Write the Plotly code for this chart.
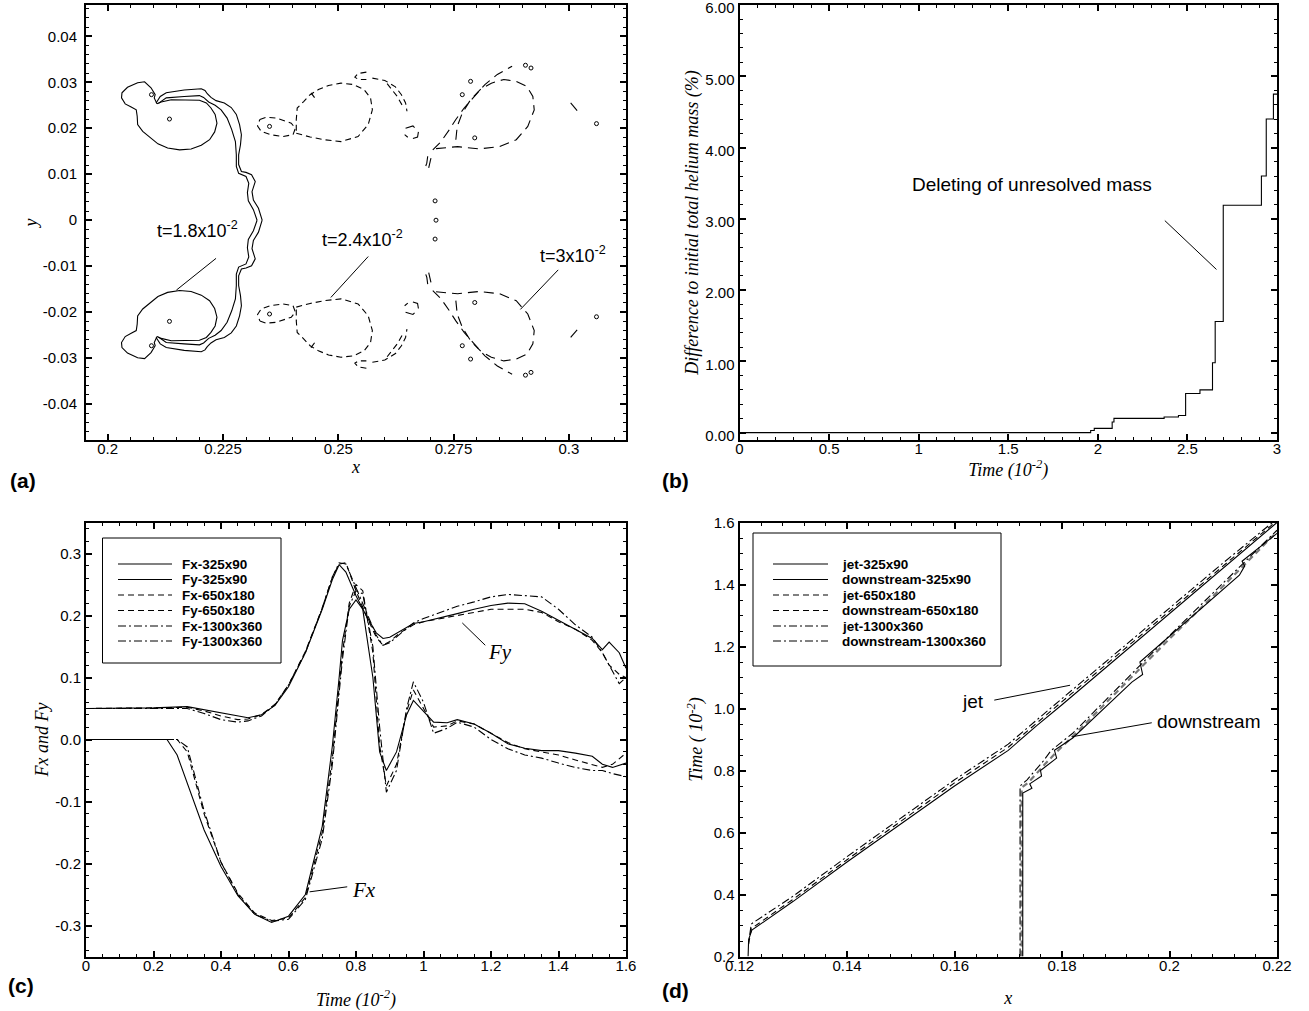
import plotly.graph_objects as go

# ================= DATA =================
# ---- (a) interface contours, upper half (lower half is the mirror image) ----
a18_cap_x = [0.2107,0.2101,0.2103,0.2094,0.2080,0.2065,0.2043,0.2031,0.2030,0.2038,0.2051,0.2062,0.2064,0.2065,0.2076,0.2094,0.2109,0.2130,0.2156,0.2181,0.2203,0.2221,0.2232,0.2237,0.2233,0.2224,0.2214,0.2199,0.2166,0.2138,0.2116,0.2107]
a18_cap_y = [0.0253,0.0266,0.0273,0.0288,0.0301,0.0299,0.0289,0.0277,0.0266,0.0253,0.0246,0.0240,0.0226,0.0208,0.0193,0.0179,0.0166,0.0157,0.0153,0.0155,0.0163,0.0175,0.0192,0.0211,0.0230,0.0244,0.0255,0.0261,0.0262,0.0262,0.0257,0.0253]
a18_outer_x = [0.2105,0.2114,0.2127,0.2166,0.2203,0.2211,0.2216,0.2224,0.2235,0.2253,0.2268,0.2279,0.2286,0.2290,0.2288,0.2284,0.2284,0.2290,0.2300,0.2312,0.2320,0.2313,0.2316,0.2327,0.2335]
a18_outer_y = [0.0255,0.0269,0.0277,0.0283,0.0286,0.0282,0.0275,0.0267,0.0260,0.0255,0.0245,0.0230,0.0208,0.0186,0.0164,0.0142,0.0121,0.0106,0.0104,0.0099,0.0084,0.0062,0.0044,0.0026,0.0]
a18_inner_x = [0.2110,0.2127,0.2166,0.2199,0.2208,0.2219,0.2233,0.2246,0.2259,0.2269,0.2277,0.2279,0.2279,0.2284,0.2300,0.2306,0.2303,0.2305,0.2316,0.2324]
a18_inner_y = [0.0254,0.0266,0.0269,0.0271,0.0267,0.0257,0.0250,0.0240,0.0222,0.0197,0.0171,0.0142,0.0117,0.0102,0.0095,0.0080,0.0060,0.0042,0.0023,0.0]
a18_dot_x = [0.2095,0.2134]
a18_dot_y = [0.0273,0.0220]

a24_main_x = [0.2409,0.2439,0.2470,0.2506,0.2543,0.2565,0.2574,0.2570,0.2556,0.2533,0.2506,0.2479,0.2457,0.2439,0.2425,0.2411,0.2409,0.2409]
a24_main_y = [0.0189,0.0181,0.0175,0.0171,0.0182,0.0208,0.0240,0.0266,0.0284,0.0295,0.0298,0.0293,0.0284,0.0273,0.0258,0.0244,0.0219,0.0189]
a24_lobe_x = [0.2330,0.2344,0.2366,0.2398,0.2407,0.2402,0.2380,0.2353,0.2333,0.2325,0.2330]
a24_lobe_y = [0.0219,0.0224,0.0222,0.0211,0.0200,0.0186,0.0182,0.0186,0.0193,0.0205,0.0219]
a24_curl_x = [0.2561,0.2543,0.2536,0.2544,0.2561]
a24_curl_y = [0.0322,0.0319,0.0311,0.0306,0.0306]
a24_tail1_x = [0.2574,0.2601,0.2624,0.2637,0.2646,0.2649]
a24_tail1_y = [0.0309,0.0304,0.0290,0.0273,0.0255,0.0237]
a24_tail2_x = [0.2606,0.2628,0.2642]
a24_tail2_y = [0.0297,0.0269,0.0244]
a24_fil_x = [0.2441,0.2452]
a24_fil_y = [0.0277,0.0262]
a24_dot_x = [0.2351]
a24_dot_y = [0.0204]

a30_main_x = [0.2755,0.2758,0.2769,0.2787,0.2809,0.2832,0.2859,0.2886,0.2909,0.2922,0.2925,0.2911,0.2886,0.2850,0.2805,0.2759,0.2705]
a30_main_y = [0.0175,0.0204,0.0233,0.0262,0.0285,0.0298,0.0306,0.0302,0.0291,0.0269,0.0240,0.0204,0.0175,0.0160,0.0155,0.0160,0.0155]
a30_arm_x = [0.2705,0.2723,0.2741,0.2755,0.2773,0.2796,0.2818,0.2845,0.2877]
a30_arm_y = [0.0153,0.0171,0.0197,0.0219,0.0244,0.0269,0.0295,0.0317,0.0335]
a30_knot_x = [0.2646,0.2662,0.2674,0.2672,0.2656,0.2644]
a30_knot_y = [0.0200,0.0205,0.0193,0.0181,0.0176,0.0186]
a30_fil1_x = [0.2694,0.2692,0.2687]
a30_fil1_y = [0.0139,0.0124,0.0110]
a30_fil2_x = [0.2701,0.2696]
a30_fil2_y = [0.0135,0.0113]
a30_far_x = [0.3004,0.3026]
a30_far_y = [0.0255,0.0229]
a30_dot_x = [0.2906,0.2918,0.2787,0.2769,0.2796,0.3060]
a30_dot_y = [0.0337,0.0331,0.0302,0.0273,0.0179,0.0210]
axis_dot_x = [0.2710,0.2712,0.2710]
axis_dot_y = [0.0042,0.0,-0.0041]

# ---- (b) helium mass loss ----
b_time = [0.0,1.96,1.98,2.08,2.09,2.37,2.45,2.49,2.57,2.64,2.655,2.70,2.913,2.94,2.98,3.0]
b_mass = [0.0,0.03,0.06,0.15,0.20,0.22,0.24,0.55,0.60,0.98,1.56,3.19,3.60,4.40,4.75,4.75]

# ---- (c) forces ----
c_tfy = [0,0.1,0.2,0.3,0.35,0.4,0.45,0.48,0.52,0.56,0.6,0.65,0.7,0.73,0.75,0.77,0.8,0.83,0.86,0.88,0.9,0.93,0.97,1.0,1.05,1.1,1.15,1.2,1.25,1.3,1.35,1.4,1.45,1.5,1.53,1.55,1.58,1.6]
fy_325 = [0.05,0.05,0.051,0.053,0.048,0.042,0.037,0.035,0.040,0.055,0.085,0.140,0.210,0.258,0.282,0.270,0.232,0.200,0.172,0.163,0.165,0.175,0.187,0.190,0.196,0.203,0.210,0.216,0.220,0.219,0.207,0.192,0.178,0.163,0.145,0.157,0.140,0.115]
fy_650 = [0.05,0.05,0.051,0.052,0.046,0.038,0.032,0.033,0.040,0.057,0.088,0.142,0.212,0.262,0.283,0.285,0.240,0.200,0.165,0.152,0.158,0.172,0.185,0.190,0.195,0.200,0.206,0.210,0.210,0.210,0.205,0.190,0.178,0.160,0.140,0.120,0.105,0.100]
fy_1300 = [0.05,0.05,0.051,0.050,0.042,0.032,0.028,0.030,0.038,0.056,0.088,0.140,0.212,0.262,0.285,0.283,0.245,0.205,0.168,0.152,0.156,0.170,0.188,0.195,0.205,0.215,0.222,0.230,0.234,0.232,0.230,0.210,0.185,0.165,0.140,0.120,0.090,0.100]
c_tfx = [0,0.1,0.2,0.24,0.27,0.3,0.35,0.4,0.45,0.5,0.55,0.6,0.65,0.7,0.73,0.75,0.76,0.78,0.8,0.82,0.85,0.87,0.89,0.92,0.95,0.97,1.0,1.03,1.07,1.1,1.15,1.2,1.25,1.3,1.35,1.4,1.45,1.5,1.53,1.56,1.6]
fx_325 = [0,0,0,0,-0.025,-0.070,-0.146,-0.205,-0.252,-0.282,-0.295,-0.285,-0.250,-0.140,-0.010,0.100,0.160,0.210,0.225,0.210,0.100,-0.020,-0.050,-0.020,0.040,0.063,0.045,0.028,0.027,0.032,0.025,0.010,-0.007,-0.014,-0.018,-0.018,-0.022,-0.027,-0.040,-0.045,-0.038]
fx_650 = [0,0,0,0,0,-0.020,-0.120,-0.198,-0.248,-0.280,-0.292,-0.288,-0.255,-0.150,-0.030,0.085,0.140,0.220,0.250,0.240,0.140,-0.010,-0.075,-0.040,0.045,0.080,0.050,0.020,0.022,0.030,0.025,0.010,-0.005,-0.015,-0.020,-0.025,-0.033,-0.040,-0.045,-0.040,-0.022]
fx_1300 = [0,0,0,0,0,-0.012,-0.115,-0.198,-0.250,-0.282,-0.293,-0.290,-0.258,-0.160,-0.040,0.075,0.130,0.215,0.240,0.235,0.150,0.020,-0.085,-0.050,0.050,0.093,0.060,0.010,0.018,0.028,0.020,0.000,-0.015,-0.025,-0.030,-0.038,-0.045,-0.050,-0.050,-0.055,-0.060]

# ---- (d) front positions ----
jet325_x = [0.1216,0.1217,0.1223,0.13,0.14,0.1461,0.16,0.17,0.1753,0.18,0.19,0.20,0.21,0.22]
jet325_t = [0.20,0.255,0.285,0.378,0.505,0.580,0.750,0.865,0.945,1.012,1.159,1.306,1.453,1.600]
jet650_x = [0.1217,0.1222,0.13,0.14,0.16,0.17,0.18,0.19,0.20,0.21,0.22]
jet650_t = [0.24,0.290,0.385,0.512,0.760,0.875,1.022,1.168,1.314,1.460,1.606]
jet1300_x = [0.1219,0.1222,0.13,0.14,0.16,0.17,0.18,0.19,0.20,0.21,0.22]
jet1300_t = [0.27,0.305,0.395,0.522,0.770,0.885,1.032,1.178,1.324,1.470,1.612]
down325_x = [0.1727,0.1727,0.1744,0.1740,0.1762,0.1760,0.1790,0.1786,0.1820,0.1930,0.1950,0.1945,0.2130,0.2140,0.2135,0.2200]
down325_t = [0.20,0.727,0.743,0.757,0.782,0.800,0.840,0.865,0.905,1.085,1.110,1.150,1.430,1.460,1.475,1.565]
down650_x = [0.1725,0.1725,0.1738,0.1752,0.1768,0.1790,0.1820,0.19,0.20,0.21,0.22]
down650_t = [0.20,0.745,0.762,0.790,0.820,0.860,0.910,1.050,1.225,1.395,1.570]
down1300_x = [0.1722,0.1722,0.1735,0.1750,0.1765,0.1780,0.1820,0.19,0.20,0.21,0.22]
down1300_t = [0.20,0.750,0.770,0.800,0.830,0.865,0.920,1.060,1.235,1.405,1.575]

legend_c_names = ["Fx-325x90","Fy-325x90","Fx-650x180","Fy-650x180","Fx-1300x360","Fy-1300x360"]
legend_d_names = ["jet-325x90","downstream-325x90","jet-650x180","downstream-650x180","jet-1300x360","downstream-1300x360"]
a_ytick_vals = [-0.04,-0.03,-0.02,-0.01,0,0.01,0.02,0.03,0.04]
a_ytick_text = ["-0.04","-0.03","-0.02","-0.01","0","0.01","0.02","0.03","0.04"]
b_ytick_vals = [0,1,2,3,4,5,6]
b_ytick_text = ["0.00","1.00","2.00","3.00","4.00","5.00","6.00"]
c_ytick_vals = [-0.3,-0.2,-0.1,0,0.1,0.2,0.3]
c_ytick_text = ["-0.3","-0.2","-0.1","0.0","0.1","0.2","0.3"]

# ================= FIGURE =================
W, H = 1309, 1011
SANS = "Arial, Liberation Sans, sans-serif"
SERIF = "Times New Roman, Liberation Serif, serif"
DASH = "6px,4px"
LDASH = "10px,6px"
DDOT = "8px,3px,2px,3px"

fig = go.Figure()

def line(xs, ys, xa, ya, dash="solid", width=1.1, color="black"):
    fig.add_trace(go.Scatter(x=xs, y=ys, xaxis=xa, yaxis=ya, mode="lines",
                             line=dict(color=color, width=width, dash=dash),
                             showlegend=False, hoverinfo="skip"))

def dots(xs, ys, xa, ya):
    fig.add_trace(go.Scatter(x=xs, y=ys, xaxis=xa, yaxis=ya, mode="markers",
                             marker=dict(symbol="circle-open", size=4, color="black", line=dict(width=1)),
                             showlegend=False, hoverinfo="skip"))

def mirrored(xs, ys, dash):
    line(xs, ys, "x", "y", dash)
    line(xs, [-v for v in ys], "x", "y", dash)

# (a)
for xs, ys in [(a18_cap_x, a18_cap_y), (a18_outer_x, a18_outer_y), (a18_inner_x, a18_inner_y)]:
    mirrored(xs, ys, "solid")
for xs, ys in [(a24_main_x, a24_main_y), (a24_lobe_x, a24_lobe_y), (a24_curl_x, a24_curl_y),
               (a24_tail1_x, a24_tail1_y), (a24_tail2_x, a24_tail2_y), (a24_fil_x, a24_fil_y)]:
    mirrored(xs, ys, DASH)
for xs, ys in [(a30_main_x, a30_main_y), (a30_arm_x, a30_arm_y), (a30_knot_x, a30_knot_y),
               (a30_fil1_x, a30_fil1_y), (a30_fil2_x, a30_fil2_y), (a30_far_x, a30_far_y)]:
    mirrored(xs, ys, LDASH)
for xs, ys in [(a18_dot_x, a18_dot_y), (a24_dot_x, a24_dot_y), (a30_dot_x, a30_dot_y)]:
    dots(xs, ys, "x", "y")
    dots(xs, [-v for v in ys], "x", "y")
dots(axis_dot_x, axis_dot_y, "x", "y")

# (b)
fig.add_trace(go.Scatter(x=b_time, y=b_mass, xaxis="x2", yaxis="y2", mode="lines",
                         line=dict(color="black", width=1.1, shape="hv"),
                         showlegend=False, hoverinfo="skip"))

# (c)
line(c_tfx, fx_325, "x3", "y3", "solid")
line(c_tfy, fy_325, "x3", "y3", "solid")
line(c_tfx, fx_650, "x3", "y3", DASH)
line(c_tfy, fy_650, "x3", "y3", DASH)
line(c_tfx, fx_1300, "x3", "y3", DDOT)
line(c_tfy, fy_1300, "x3", "y3", DDOT)

# (d)
line(down650_x, down650_t, "x4", "y4", DASH, width=2.2, color="#777777")
line(jet325_x, jet325_t, "x4", "y4", "solid")
line(down325_x, down325_t, "x4", "y4", "solid")
line(jet650_x, jet650_t, "x4", "y4", DASH)
line(jet1300_x, jet1300_t, "x4", "y4", DDOT)
line(down1300_x, down1300_t, "x4", "y4", DDOT)

# ---- axes ----
TITLE_SIZE = 18

def ax(rng, domain, anchor, dtick=None, tick0=None, minor_dtick=None, title=None, standoff=0,
       tickvals=None, ticktext=None, tickformat=None, labelshift=0, labelalong=0):
    d = dict(range=rng, domain=domain, anchor=anchor, automargin=False,
             showline=True, linewidth=2, linecolor="black",
             mirror="allticks", ticks="inside", ticklen=6, tickwidth=1.5, tickcolor="black",
             showgrid=False, zeroline=False, ticklabelstandoff=labelshift, ticklabelshift=labelalong,
             ticklabeloverflow="allow",
             tickfont=dict(family=SANS, size=15, color="black"),
             minor=dict(ticks="inside", ticklen=3, tickwidth=1, tickcolor="black", showgrid=False,
                        dtick=minor_dtick, tick0=tick0 if tick0 is not None else 0))
    if tickvals is not None:
        d.update(tickmode="array", tickvals=tickvals, ticktext=ticktext)
    else:
        d.update(tickmode="linear", dtick=dtick, tick0=tick0 if tick0 is not None else 0)
    if tickformat:
        d["tickformat"] = tickformat
    if title:
        d["title"] = dict(text=title, font=dict(family=SERIF, size=TITLE_SIZE, color="black"), standoff=standoff)
    return d

def px(xp): return xp / W
def py(yp): return 1 - yp / H

XL = [px(86), px(626)]
XR = [px(739.5), px(1277)]
YT = [py(440), py(5)]
YB = [py(956.5), py(522.5)]

fig.update_layout(
    width=W, height=H, autosize=False,
    margin=dict(l=0, r=0, t=0, b=0, autoexpand=False),
    paper_bgcolor="white", plot_bgcolor="white",
    showlegend=False,
    xaxis=ax([0.1953, 0.3124], XL, "y", dtick=0.025, tick0=0.2, minor_dtick=0.005, title="<i>x</i>",
             standoff=0, labelshift=-6),
    yaxis=ax([-0.0478, 0.0468], YT, "x", tickvals=a_ytick_vals, ticktext=a_ytick_text, minor_dtick=0.002,
             title="<i>y</i>", standoff=0, labelshift=4),
    xaxis2=ax([0, 3], XR, "y2", dtick=0.5, minor_dtick=0.1, title="<i>Time (10<sup>-2</sup>)</i>",
              standoff=2, labelshift=-6),
    yaxis2=ax([-0.103, 6.0], YT, "x2", tickvals=b_ytick_vals, ticktext=b_ytick_text, minor_dtick=0.2,
              title="<i>Difference to initial total helium mass (%)</i>", standoff=2, labelalong=3),
    xaxis3=ax([0, 1.6], XL, "y3", dtick=0.2, minor_dtick=0.05, title="<i>Time (10<sup>-2</sup>)</i>",
              standoff=22, labelshift=-6),
    yaxis3=ax([-0.35, 0.35], YB, "x3", tickvals=c_ytick_vals, ticktext=c_ytick_text, minor_dtick=0.02,
              title="<i>Fx and Fy</i>", standoff=2),
    xaxis4=ax([0.12, 0.22], XR, "y4", dtick=0.02, tick0=0.12, minor_dtick=0.004, title="<i>x</i>",
              standoff=19, labelshift=-6),
    yaxis4=ax([0.2, 1.6], YB, "x4", dtick=0.2, tick0=0.2, minor_dtick=0.05, tickformat=".1f",
              title="<i>Time ( 10<sup>-2</sup>)</i>", standoff=6),
)

annotations = []
shapes = []

def label(text, x, y, xref, yref, size=18, family=SANS, xanchor="center"):
    annotations.append(dict(text=text, x=x, y=y, xref=xref, yref=yref, showarrow=False,
                            font=dict(family=family, size=size, color="black"), xanchor=xanchor, yanchor="middle"))

def leader(x0, y0, x1, y1, xref, yref):
    shapes.append(dict(type="line", x0=x0, y0=y0, x1=x1, y1=y1, xref=xref, yref=yref,
                       line=dict(color="black", width=1)))

# panel letters
label("<b>(a)</b>", px(8), py(481), "paper", "paper", size=21, xanchor="left")
label("<b>(b)</b>", px(660), py(481), "paper", "paper", size=21, xanchor="left")
label("<b>(c)</b>", px(6), py(985), "paper", "paper", size=21, xanchor="left")
label("<b>(d)</b>", px(660), py(990), "paper", "paper", size=21, xanchor="left")

# (a) time labels
label("t=1.8x10<sup>-2</sup>", 0.2194, -0.0021, "x", "y")
leader(0.2235, -0.0083, 0.2149, -0.0152, "x", "y")
label("t=2.4x10<sup>-2</sup>", 0.2552, -0.0039, "x", "y")
leader(0.2565, -0.0079, 0.2484, -0.0168, "x", "y")
label("t=3x10<sup>-2</sup>", 0.3008, -0.0075, "x", "y")
leader(0.2977, -0.0108, 0.2895, -0.0194, "x", "y")

# (b)
label("Deleting of unresolved mass", 1.635, 3.475, "x2", "y2", size=19)
leader(2.374, 2.975, 2.662, 2.29, "x2", "y2")

# (c)
label("<i>Fy</i>", 1.226, 0.141, "x3", "y3", size=21, family=SERIF)
leader(1.183, 0.152, 1.115, 0.188, "x3", "y3")
label("<i>Fx</i>", 0.8235, -0.242, "x3", "y3", size=21, family=SERIF)
leader(0.774, -0.2376, 0.6625, -0.2457, "x3", "y3")

# (d)
label("jet", 0.1635, 1.0217, "x4", "y4", size=19)
leader(0.1674, 1.027, 0.1815, 1.075, "x4", "y4")
label("downstream", 0.2073, 0.957, "x4", "y4", size=19)
leader(0.1967, 0.954, 0.1819, 0.909, "x4", "y4")

# manual legends (box + samples + text)
styles = [("#808080", 2, "solid"), ("black", 1, "solid"), ("#808080", 2, DASH),
          ("black", 1, DASH), ("#808080", 2, DDOT), ("black", 1, DDOT)]
entry_y = [564, 579.5, 595, 610.5, 626, 641]

def legend_box(x0, x1, y0, y1, lx0, lx1, tx, names):
    shapes.append(dict(type="rect", xref="paper", yref="paper", x0=px(x0), x1=px(x1), y0=py(y1), y1=py(y0),
                       line=dict(color="black", width=1), fillcolor="white", layer="above"))
    for (col, w, dsh), yy, name in zip(styles, entry_y, names):
        shapes.append(dict(type="line", xref="paper", yref="paper", x0=px(lx0), x1=px(lx1), y0=py(yy), y1=py(yy),
                           line=dict(color=col, width=w, dash=dsh), layer="above"))
        annotations.append(dict(text="<b>%s</b>" % name, x=px(tx), y=py(yy), xref="paper", yref="paper",
                                showarrow=False, xanchor="left", yanchor="middle",
                                font=dict(family=SANS, size=13.5, color="black")))

legend_box(102.5, 281, 538, 663, 118, 172, 180, legend_c_names)
legend_box(753, 1001, 533, 666, 773, 828, 840, legend_d_names)

fig.update_layout(annotations=annotations, shapes=shapes)

fig.write_html("out.html")
